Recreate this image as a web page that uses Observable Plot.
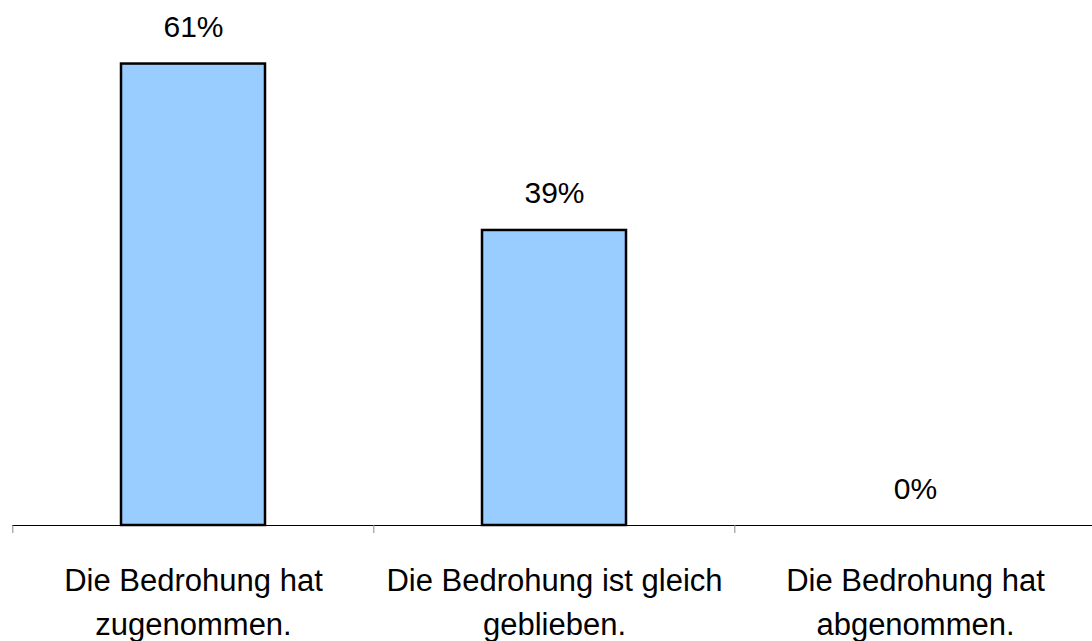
<!DOCTYPE html>
<html>
<head>
<meta charset="utf-8">
<script src="https://cdn.jsdelivr.net/npm/d3@7"></script>
<script src="https://cdn.jsdelivr.net/npm/@observablehq/plot@0.6"></script>
<style>
  html, body { margin: 0; padding: 0; background: #fff; overflow: hidden; }
  #chart { width: 1092px; height: 641px; }
</style>
</head>
<body>
<div id="chart"></div>
<script>
const categories = [
  "Die Bedrohung hat\nzugenommen.",
  "Die Bedrohung ist gleich\ngeblieben.",
  "Die Bedrohung hat\nabgenommen."
];
const values = [61, 39, 0];
const valueLabels = ["61%", "39%", "0%"];

const data = categories.map((c, i) => ({category: c, value: values[i], label: valueLabels[i]}));

const font = "'Liberation Sans', Arial, sans-serif";
const step = (1092 + 4 - 12) / 3;

const chart = Plot.plot({
  width: 1092,
  height: 641,
  marginLeft: 12,
  marginRight: -4,
  marginTop: 0,
  marginBottom: 116,
  style: {fontFamily: font, background: "#fff", overflow: "hidden"},
  x: {domain: categories, paddingInner: 0.6, paddingOuter: 0.3, axis: null},
  y: {domain: [0, 69.4], axis: null},
  marks: [
    Plot.barY(data, {x: "category", y: "value", fill: "#99CCFF", stroke: "#000", strokeWidth: 2.5,
      filter: d => d.value > 0}),
    Plot.ruleY([0], {stroke: "#000", strokeWidth: 1}),
    Plot.ruleX(data, {x: "category", y1: 0, y2: 0, dx: -step / 2, insetBottom: -8, stroke: "#888", strokeWidth: 1}),
    Plot.text(data, {x: "category", y: "value", text: "label", lineAnchor: "bottom", dy: -27,
      fontSize: 30, fill: "#000"}),
    Plot.text(data, {x: "category", y: 0, text: "category", lineAnchor: "top", dy: 35,
      fontSize: 31, lineHeight: 1.4, fill: "#000"})
  ]
});
document.getElementById("chart").appendChild(chart);
</script>
</body>
</html>
